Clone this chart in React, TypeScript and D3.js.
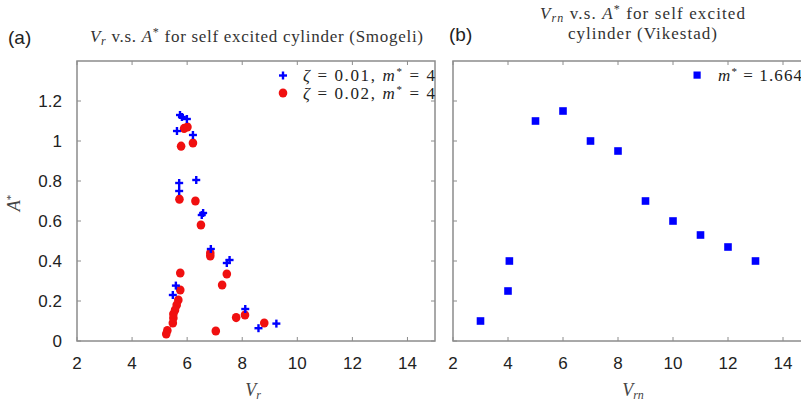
import React from "react";
import * as d3 from "d3";

const xTicks = [2, 4, 6, 8, 10, 12, 14];
const yTicks = [0, 0.2, 0.4, 0.6, 0.8, 1, 1.2];
const yTickLabels = ["0", "0.2", "0.4", "0.6", "0.8", "1", "1.2"];

// Smogeli, zeta = 0.01, m* = 4 (blue crosses)
const smogeliZeta001Vr = [5.74, 5.81, 5.99, 5.63, 6.21, 5.71, 5.71, 6.33, 6.53, 6.58, 6.86, 7.44, 7.54, 5.59, 5.48, 8.11, 8.59, 9.24];
const smogeliZeta001A = [1.13, 1.12, 1.11, 1.05, 1.03, 0.79, 0.75, 0.805, 0.63, 0.64, 0.46, 0.39, 0.405, 0.277, 0.23, 0.16, 0.064, 0.087];

// Smogeli, zeta = 0.02, m* = 4 (red circles)
const smogeliZeta002Vr = [5.89, 6.01, 5.78, 6.21, 5.72, 6.3, 6.5, 6.84, 6.84, 5.75, 5.75, 7.27, 7.44, 5.68, 5.62, 5.56, 5.5, 5.5, 5.48, 5.28, 5.24, 7.04, 7.78, 8.1, 8.8];
const smogeliZeta002A = [1.063, 1.07, 0.974, 0.99, 0.709, 0.7, 0.58, 0.44, 0.425, 0.34, 0.255, 0.28, 0.335, 0.205, 0.18, 0.155, 0.135, 0.115, 0.09, 0.052, 0.035, 0.05, 0.117, 0.13, 0.09];

// Vikestad, m* = 1.664 (blue squares)
const vikestadVrn = [3, 4, 4.05, 5, 6, 7, 8, 9, 10, 11, 12, 13];
const vikestadA = [0.1, 0.25, 0.4, 1.1, 1.15, 1.0, 0.95, 0.7, 0.6, 0.53, 0.47, 0.4];

const BLUE = "#0000ff";
const RED = "#f01010";
const FRAME = "#8c8c8c";
const TXT = "#222";
const SERIF = "'Liberation Serif', 'DejaVu Serif', serif";
const SANS = "'Liberation Sans', Arial, sans-serif";

type PanelProps = {
  x0: number;
  x1: number;
  children: (xs: d3.ScaleLinear<number, number>, ys: d3.ScaleLinear<number, number>) => React.ReactNode;
  showYLabels: boolean;
};

const Y0 = 341;
const Y1 = 61;

function Panel({ x0, x1, children, showYLabels }: PanelProps) {
  const xs = d3.scaleLinear().domain([2, 15]).range([x0, x1]);
  const ys = d3.scaleLinear().domain([0, 1.4]).range([Y0, Y1]);
  const tl = 4;
  return (
    <g>
      {children(xs, ys)}
      <rect x={x0} y={Y1} width={x1 - x0} height={Y0 - Y1} fill="none" stroke={FRAME} strokeWidth={1.5} />
      {xTicks.map((t) => (
        <g key={"xt" + t}>
          <line x1={xs(t)} x2={xs(t)} y1={Y0} y2={Y0 - tl} stroke={FRAME} strokeWidth={1} />
          <line x1={xs(t)} x2={xs(t)} y1={Y1} y2={Y1 + tl} stroke={FRAME} strokeWidth={1} />
          <text x={xs(t)} y={Y0 + 28} textAnchor="middle" fontFamily={SANS} fontSize={17} fill={TXT}>
            {t}
          </text>
        </g>
      ))}
      {yTicks.map((t, i) => (
        <g key={"yt" + t}>
          <line x1={x0} x2={x0 + tl} y1={ys(t)} y2={ys(t)} stroke={FRAME} strokeWidth={1} />
          <line x1={x1} x2={x1 - tl} y1={ys(t)} y2={ys(t)} stroke={FRAME} strokeWidth={1} />
          {showYLabels && (
            <text x={x0 - 15} y={ys(t) + 6} textAnchor="end" fontFamily={SANS} fontSize={17} fill={TXT}>
              {yTickLabels[i]}
            </text>
          )}
        </g>
      ))}
    </g>
  );
}

export default function App() {
  const cross = (cx: number, cy: number, k: string) => (
    <g key={k} stroke={BLUE} strokeWidth={2.4}>
      <line x1={cx - 4} x2={cx + 4} y1={cy} y2={cy} />
      <line x1={cx} x2={cx} y1={cy - 4} y2={cy + 4} />
    </g>
  );
  return (
    <svg width={801} height={403} style={{ position: "absolute", left: 0, top: 0, display: "block", background: "#fff" }}>
      {/* panel labels */}
      <text x={8} y={44} fontFamily={SANS} fontSize={19} fill={TXT}>(a)</text>
      <text x={449} y={41} fontFamily={SANS} fontSize={19} fill={TXT}>(b)</text>

      {/* left title */}
      <text x={90} y={42} textLength={333} lengthAdjust="spacing" fontFamily={SERIF} fontSize={17} fill="#333">
        <tspan fontStyle="italic">V</tspan>
        <tspan fontStyle="italic" fontSize={12} dy={3}>r</tspan>
        <tspan dy={-3}> v.s.  </tspan>
        <tspan fontStyle="italic">A</tspan>
        <tspan fontSize={12} dy={-6}>*</tspan>
        <tspan dy={6}> for self excited cylinder (Smogeli)</tspan>
      </text>

      {/* right title */}
      <text x={540} y={19} textLength={205} lengthAdjust="spacing" fontFamily={SERIF} fontSize={17} fill="#333">
        <tspan fontStyle="italic">V</tspan>
        <tspan fontStyle="italic" fontSize={12} dy={3}>rn</tspan>
        <tspan dy={-3}> v.s.  </tspan>
        <tspan fontStyle="italic">A</tspan>
        <tspan fontSize={12} dy={-6}>*</tspan>
        <tspan dy={6}> for self excited</tspan>
      </text>
      <text x={568} y={39} textLength={149} lengthAdjust="spacing" fontFamily={SERIF} fontSize={17} fill="#333">
        cylinder (Vikestad)
      </text>

      <Panel x0={77} x1={435} showYLabels={true}>
        {(xs, ys) => (
          <g>
            {smogeliZeta002Vr.map((v, i) => (
              <ellipse key={"r" + i} cx={xs(v)} cy={ys(smogeliZeta002A[i])} rx={4.3} ry={4.6} fill={RED} />
            ))}
            {smogeliZeta001Vr.map((v, i) => cross(xs(v), ys(smogeliZeta001A[i]), "b" + i))}
          </g>
        )}
      </Panel>

      <Panel x0={453} x1={810.5} showYLabels={false}>
        {(xs, ys) => (
          <g>
            {vikestadVrn.map((v, i) => (
              <rect key={"s" + i} x={xs(v) - 3.8} y={ys(vikestadA[i]) - 3.8} width={7.6} height={7.6} fill={BLUE} />
            ))}
          </g>
        )}
      </Panel>

      {/* left legend */}
      {cross(283, 75.5, "legb")}
      <ellipse cx={283} cy={93} rx={4.3} ry={4.6} fill={RED} />
      <text x={303} y={81} textLength={132} lengthAdjust="spacing" fontFamily={SERIF} fontSize={17} fill={TXT}>
        <tspan fontStyle="italic">ζ</tspan>
        <tspan> = 0.01, </tspan>
        <tspan fontStyle="italic">m</tspan>
        <tspan fontSize={11} dy={-6}>*</tspan>
        <tspan dy={6}> = 4</tspan>
      </text>
      <text x={303} y={99} textLength={132} lengthAdjust="spacing" fontFamily={SERIF} fontSize={17} fill={TXT}>
        <tspan fontStyle="italic">ζ</tspan>
        <tspan> = 0.02, </tspan>
        <tspan fontStyle="italic">m</tspan>
        <tspan fontSize={11} dy={-6}>*</tspan>
        <tspan dy={6}> = 4</tspan>
      </text>

      {/* right legend */}
      <rect x={693.5} y={71.5} width={7.2} height={7.2} fill={BLUE} />
      <text x={718} y={81} textLength={84} lengthAdjust="spacing" fontFamily={SERIF} fontSize={17} fill={TXT}>
        <tspan fontStyle="italic">m</tspan>
        <tspan fontSize={11} dy={-6}>*</tspan>
        <tspan dy={6}> = 1.664</tspan>
      </text>

      {/* axis labels */}
      <text x={253} y={396} textAnchor="middle" fontFamily={SERIF} fontSize={18} fill="#444">
        <tspan fontStyle="italic">V</tspan>
        <tspan fontStyle="italic" fontSize={12} dy={3}>r</tspan>
      </text>
      <text x={633} y={396} textAnchor="middle" fontFamily={SERIF} fontSize={18} fill="#444">
        <tspan fontStyle="italic">V</tspan>
        <tspan fontStyle="italic" fontSize={12} dy={3}>rn</tspan>
      </text>
      <text transform="translate(20,203) rotate(-90)" textAnchor="middle" fontFamily={SERIF} fontSize={18} fill="#444">
        <tspan fontStyle="italic">A</tspan>
        <tspan fontSize={11} dy={-6}>*</tspan>
      </text>
    </svg>
  );
}
